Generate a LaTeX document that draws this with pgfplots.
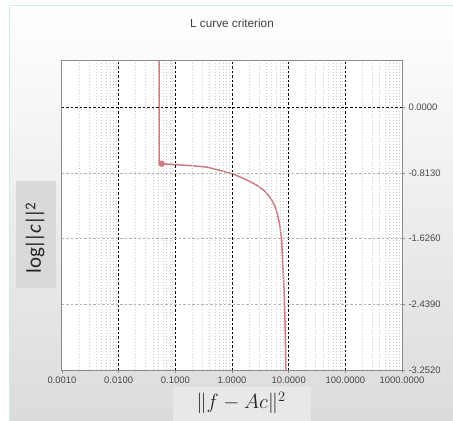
\documentclass[border=0pt]{standalone}
\usepackage{pgfplots}
\pgfplotsset{compat=1.18}
\usepackage{fontspec}
\setmainfont{Liberation Sans}
\newfontfamily\carlito{Carlito}
\definecolor{curvecol}{RGB}{205,125,130}
\definecolor{panelborder}{RGB}{205,235,238}
\begin{document}
\begin{tikzpicture}
\useasboundingbox (0bp,0bp) rectangle (453bp,-421bp);
\fill[white] (0bp,0bp) rectangle (453bp,-421bp);
\shade[top color=white, bottom color=black!14] (9bp,-5bp) rectangle (453bp,-421bp);
\draw[panelborder, line width=1bp] (9bp,-421bp) -- (9bp,-5bp) -- (453bp,-5bp);
\node[font=\fontsize{11.8}{14}\selectfont, text=black!75] at (232bp,-23bp) {L curve criterion};
\fill[black!15] (16bp,-181bp) rectangle (56bp,-288bp);
\node[rotate=90, font=\fontsize{21}{24}\selectfont\carlito, text=black!85] at (35bp,-238bp) {log\kern-1.5bp|\kern-3.5bp|\kern-0.5bp\textit{c}|\kern-3.5bp|\kern-1bp\raisebox{0.55ex}{\fontsize{15}{17}\selectfont 2}};
\fill[black!9] (173bp,-387bp) rectangle (311bp,-421bp);
\node[font=\fontsize{21}{24}\selectfont, text=black!85] at (241bp,-403bp) {$\|f - Ac\|^2$};
\begin{axis}[
  at={(62bp,-370bp)}, anchor=south west,
  width=340bp, height=309bp, scale only axis,
  xmode=log, xmin=0.001, xmax=1000,
  ymin=-3.252, ymax=0.575,
  axis on top,
  axis background/.style={fill=white},
  axis line style={draw=black!45, line width=1bp},
  xtick={0.01,0.1,1,10,100},
  xticklabels={0.0100,0.1000,1.0000,10.0000,100.0000},
  minor xtick={0.002,0.003,0.004,0.005,0.006,0.007,0.008,0.009,
    0.02,0.03,0.04,0.05,0.06,0.07,0.08,0.09,
    0.2,0.3,0.4,0.5,0.6,0.7,0.8,0.9,
    2,3,4,5,6,7,8,9,
    20,30,40,50,60,70,80,90,
    200,300,400,500,600,700,800,900},
  extra x ticks={0.001,1000},
  extra x tick labels={0.0010,1000.0000},
  extra x tick style={grid=none},
  ytick={-3.252,-2.439,-1.626,-0.813},
  extra y ticks={0},
  extra y tick style={major y grid style={black, dashed, dash pattern=on 2.5bp off 2bp, line width=0.6bp}},
  xtick pos=left, ytick pos=right,
  yticklabel pos=right,
  yticklabel style={/pgf/number format/.cd, fixed, fixed zerofill, precision=4},
  /pgf/number format/assume math mode=true,
  ticklabel style={font=\fontsize{9.5}{11}\selectfont, text=black!72},
  tick align=outside, major tick length=3bp, minor tick length=0pt,
  tick style={black!45, line width=0.6bp},
  xmajorgrids, xminorgrids, ymajorgrids,
  major x grid style={black, dashed, dash pattern=on 2.5bp off 2bp, line width=0.6bp},
  minor x grid style={black!20, dash pattern=on 1.5bp off 1.5bp, line width=0.5bp},
  major y grid style={black!30, dashed, dash pattern=on 2.5bp off 2bp, line width=0.5bp},
]
\addplot[curvecol, line width=1.5bp] coordinates {
(0.0515,0.80) (0.0515,-0.685) (0.053,-0.693) (0.0574,-0.697)
(0.092,-0.707) (0.2,-0.722) (0.357,-0.739) (0.614,-0.779)
(1.055,-0.826) (1.5,-0.872) (2.07,-0.917) (2.76,-0.965)
(3.57,-1.020) (4.32,-1.082) (5.01,-1.144) (5.62,-1.213)
(6.15,-1.289) (6.61,-1.380) (7.03,-1.475) (7.53,-1.640)
(7.84,-1.925) (8.26,-2.219) (8.61,-2.632) (8.97,-3.252) (9.0,-3.40)
};
\addplot[only marks, mark=*, mark size=3bp, curvecol] coordinates {(0.0574,-0.697)};
\end{axis}
\end{tikzpicture}
\end{document}
